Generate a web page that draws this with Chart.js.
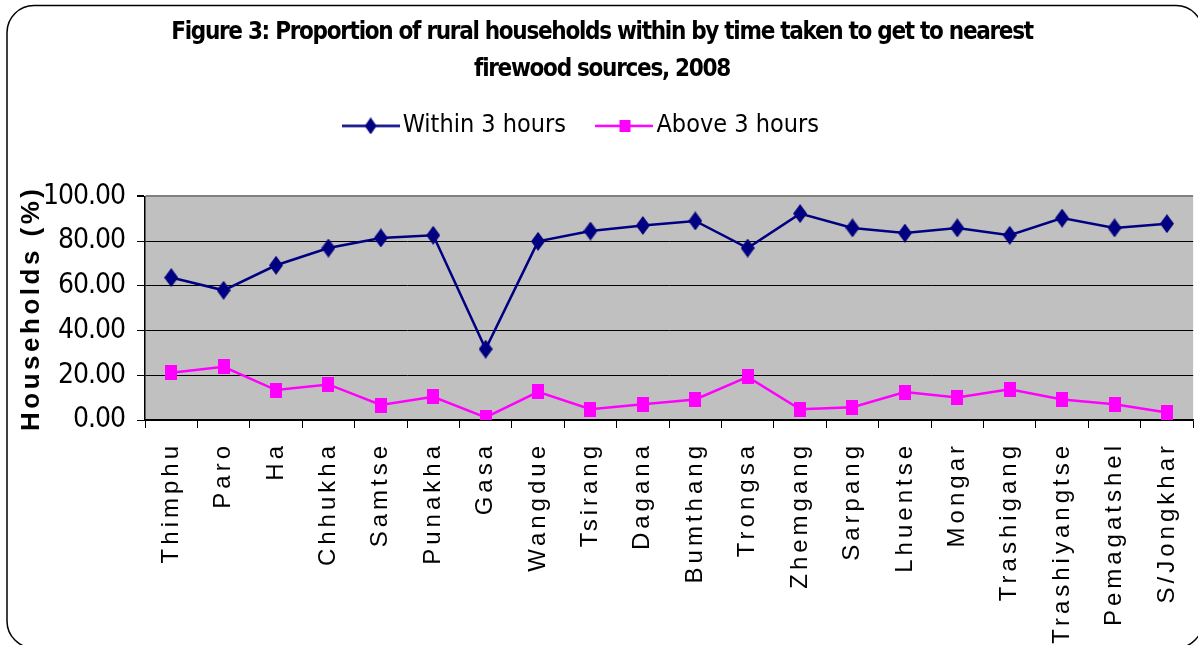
<!DOCTYPE html>
<html>
<head>
<meta charset="utf-8">
<title>Figure 3</title>
<script src="https://cdn.jsdelivr.net/npm/chart.js@4.4.1/dist/chart.umd.min.js"></script>
<style>
    html, body { margin: 0; padding: 0; background: #ffffff; overflow: hidden; }
    #wrap { width: 1210px; height: 645px; }
</style>
</head>
<body>
<div id="wrap"><canvas id="firewood-chart" width="1210" height="645"></canvas></div>
<script>
const districts = ['Thimphu', 'Paro', 'Ha', 'Chhukha', 'Samtse', 'Punakha', 'Gasa', 'Wangdue', 'Tsirang', 'Dagana',
    'Bumthang', 'Trongsa', 'Zhemgang', 'Sarpang', 'Lhuentse', 'Mongar', 'Trashigang', 'Trashiyangtse', 'Pemagatshel', 'S/Jongkhar'];

const within3Hours = [63.7, 58.0, 69.2, 76.9, 81.4, 82.6, 31.7, 79.9, 84.5, 87.0,
    89.0, 76.9, 92.3, 85.9, 83.6, 85.9, 82.6, 90.3, 85.9, 87.8];

const above3Hours = [21.1, 23.8, 13.4, 15.9, 6.7, 10.4, 1.2, 12.6, 4.8, 7.0,
    9.2, 19.3, 4.8, 5.7, 12.5, 10.1, 13.7, 9.2, 7.0, 3.4];

const titleLines = ['Figure 3: Proportion of rural households within by time taken to get to nearest', 'firewood sources, 2008'];
const yTicks = [0, 20, 40, 60, 80, 100];

const NAVY = '#000080';
const MAGENTA = '#ff00ff';
const NARROW = "'Liberation Sans Narrow', 'Arial Narrow', 'DejaVu Sans Condensed', sans-serif";
const ARIAL = "'Liberation Sans', Arial, sans-serif";

function makeDiamond(color, w, h)
{
    const c = document.createElement('canvas');
    c.width = w;
    c.height = h;
    const ctx = c.getContext('2d');
    ctx.fillStyle = color;
    ctx.beginPath();
    ctx.moveTo(w / 2, 0);
    ctx.lineTo(w, h / 2);
    ctx.lineTo(w / 2, h);
    ctx.lineTo(0, h / 2);
    ctx.closePath();
    ctx.fill();
    return c;
}

function makeSquare(color, w, h)
{
    const c = document.createElement('canvas');
    c.width = w;
    c.height = h;
    const ctx = c.getContext('2d');
    ctx.fillStyle = color;
    ctx.fillRect(0, 0, w, h);
    return c;
}

// legend sample: a short line with the marker in its middle
function makeLegendIcon(color, marker, len, lineWidth)
{
    const c = document.createElement('canvas');
    c.width = len;
    c.height = marker.height;
    const ctx = c.getContext('2d');
    ctx.strokeStyle = color;
    ctx.lineWidth = lineWidth;
    ctx.beginPath();
    ctx.moveTo(0, c.height / 2);
    ctx.lineTo(len, c.height / 2);
    ctx.stroke();
    ctx.drawImage(marker, (len - marker.width) / 2, 0);
    return c;
}

const diamond = makeDiamond(NAVY, 14, 19);
const square = makeSquare(MAGENTA, 12, 15);
const legendIcons = [makeLegendIcon(NAVY, makeDiamond(NAVY, 12, 17), 58, 2.5), makeLegendIcon(MAGENTA, makeSquare(MAGENTA, 11, 12), 58, 2.5)];

function withSpacing(fn, spacing)
{
    return function (arg)
    {
        const prev = this.ctx.letterSpacing;
        this.ctx.letterSpacing = spacing;
        fn.call(this, arg);
        this.ctx.letterSpacing = prev;
    };
}

function shifted(fn, dx, dy)
{
    return function (arg)
    {
        this.ctx.save();
        this.ctx.translate(dx, dy);
        fn.call(this, arg);
        this.ctx.restore();
    };
}

const frameAndSpacing = {
    id: 'frameAndSpacing',
    beforeLayout(chart)
    {
        const lg = chart.legend;
        if (lg && !lg._gapped)
        {
            const fit = lg.fit;
            lg.fit = function ()
            {
                fit.call(this);
                this.height += 34;
            };
            lg._gapped = true;
        }
    },
    beforeDraw(chart)
    {
        const x = chart.scales.x;
        const y = chart.scales.y;
        if (!x._spaced)
        {
            x.drawLabels = withSpacing(x.drawLabels, '4px');
            y.drawTitle = withSpacing(y.drawTitle, '3.5px');
            y.drawLabels = withSpacing(y.drawLabels, '-1px');
            chart.titleBlock.draw = withSpacing(chart.titleBlock.draw, '-1.3px');
            chart.legend.draw = shifted(chart.legend.draw, -17, -14);
            x._spaced = true;
        }
        const ctx = chart.ctx;
        const a = chart.chartArea;
        ctx.save();
        ctx.fillStyle = '#c0c0c0';
        ctx.fillRect(a.left, a.top, a.right - a.left, a.bottom - a.top);
        ctx.strokeStyle = '#000000';
        ctx.lineWidth = 1.5;
        ctx.beginPath();
        ctx.roundRect(7, 5.5, 1196, 642.5, 27);
        ctx.stroke();
        ctx.restore();
    }
};

new Chart(document.getElementById('firewood-chart'), {
    type: 'line',
    data: {
        labels: districts,
        datasets: [
            {
                label: 'Within 3 hours',
                data: within3Hours,
                borderColor: NAVY,
                backgroundColor: NAVY,
                borderWidth: 2.5,
                pointStyle: diamond,
                pointRadius: 8,
                tension: 0
            },
            {
                label: 'Above 3 hours',
                data: above3Hours,
                borderColor: MAGENTA,
                backgroundColor: MAGENTA,
                borderWidth: 2.5,
                pointStyle: square,
                pointRadius: 7,
                tension: 0
            }
        ]
    },
    options: {
        responsive: false,
        animation: false,
        devicePixelRatio: 1,
        layout: { padding: { left: 0, right: 6, top: 0, bottom: 0 } },
        plugins: {
            title: {
                display: true,
                text: titleLines,
                color: '#000000',
                font: { family: NARROW, size: 24, weight: 'bold', lineHeight: 1.55 },
                padding: { top: 14, bottom: 0 }
            },
            legend: {
                display: true,
                position: 'top',
                labels: {
                    color: '#000000',
                    font: { family: NARROW, size: 25 },
                    usePointStyle: true,
                    pointStyleWidth: 39,
                    padding: 39,
                    generateLabels(chart)
                    {
                        return chart.data.datasets.map((ds, i) => ({
                            text: ds.label,
                            fillStyle: ds.backgroundColor,
                            strokeStyle: ds.borderColor,
                            pointStyle: legendIcons[i],
                            datasetIndex: i,
                            hidden: false
                        }));
                    }
                }
            },
            tooltip: { enabled: false }
        },
        scales: {
            x: {
                offset: true,
                afterFit(scale) { scale.height = 225; },
                grid: {
                    offset: true,
                    drawOnChartArea: false,
                    drawTicks: true,
                    tickLength: 8,
                    tickColor: '#000000'
                },
                border: { color: '#000000', width: 1.5 },
                ticks: {
                    autoSkip: false,
                    minRotation: 90,
                    maxRotation: 90,
                    padding: 14,
                    color: '#000000',
                    font: { family: ARIAL, size: 24 }
                }
            },
            y: {
                min: 0,
                max: 100,
                afterFit(scale) { scale.width = 145; },
                afterBuildTicks(scale) { scale.ticks = yTicks.map(v => ({ value: v })); },
                grid: {
                    color: ctx => (ctx.tick && ctx.tick.value === 100) ? '#808080' : '#000000',
                    lineWidth: ctx => (ctx.tick && ctx.tick.value === 100) ? 2 : 1,
                    tickLength: 8,
                    tickColor: '#000000'
                },
                border: { color: '#000000', width: 1.5 },
                ticks: {
                    padding: 12,
                    color: '#000000',
                    font: { family: NARROW, size: 28 },
                    callback: value => Number(value).toFixed(2)
                },
                title: {
                    display: true,
                    text: 'Households (%)',
                    color: '#000000',
                    font: { family: ARIAL, size: 26, weight: 'bold', lineHeight: 1.2 },
                    padding: { top: 16, bottom: 0 }
                }
            }
        }
    },
    plugins: [frameAndSpacing]
});
</script>
</body>
</html>
